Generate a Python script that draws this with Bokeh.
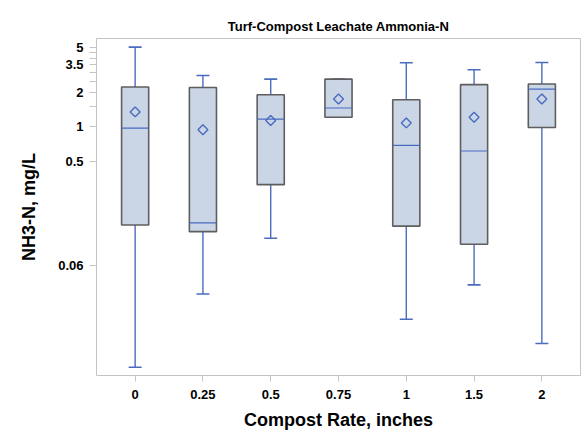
from bokeh.plotting import figure
from bokeh.models import FactorRange, Range1d, FixedTicker, Whisker, ColumnDataSource, TeeHead
from bokeh.embed import file_html
from bokeh.resources import INLINE

# ---- data ----
rates = ["0", "0.25", "0.5", "0.75", "1", "1.5", "2"]
upper = [5.0, 2.82, 2.62, 2.62, 3.64, 3.16, 3.66]
q3 = [2.23, 2.21, 1.91, 2.62, 1.725, 2.34, 2.37]
median = [0.974, 0.143, 1.168, 1.46, 0.686, 0.612, 2.14]
mean = [1.35, 0.94, 1.135, 1.75, 1.08, 1.21, 1.75]
q1 = [0.137, 0.120, 0.31, 1.21, 0.134, 0.0929, 0.986]
lower = [0.00774, 0.034, 0.105, 1.21, 0.0204, 0.0409, 0.0125]

y_ticks = [0.06, 0.5, 1, 1.5, 2, 2.5, 3, 3.5, 4, 4.5, 5]
y_labels = ["0.06", "0.5", "1", "", "2", "", "", "3.5", "", "", "5"]

title = "Turf-Compost Leachate Ammonia-N"
x_title = "Compost Rate, inches"
y_title = "NH3-N, mg/L"

FONT = "Liberation Sans"
BLUE = "#4a6cbf"
FILL = "#cad5e5"
EDGE = "#5e5e5e"
GRAY = "#c4c4c4"

src = ColumnDataSource(dict(x=rates, upper=upper, q3=q3, median=median,
                            mean=mean, q1=q1, lower=lower))

p = figure(width=585, height=445, output_backend="svg", toolbar_location=None,
           x_range=FactorRange(factors=rates, range_padding=0.02),
           y_range=Range1d(0.00655, 5.95), y_axis_type="log",
           min_border_left=96, min_border_right=5, min_border_top=38,
           min_border_bottom=70, title=title)

p.title.text_font = FONT
p.title.text_font_size = "13px"
p.title.text_font_style = "bold"
p.title.align = "center"
p.title.text_color = "#000000"

p.xgrid.visible = False
p.ygrid.visible = False
p.outline_line_color = GRAY
p.outline_line_width = 1
p.background_fill_color = "white"
p.border_fill_color = "white"

# boxes
p.vbar(x="x", width=0.4, top="q3", bottom="q1", source=src,
       fill_color=FILL, line_color=EDGE, line_width=1.6)
# medians
p.vbar(x="x", width=0.4, top="median", bottom="median", source=src,
       fill_alpha=0, line_color=BLUE, line_width=1.2)
# means
p.scatter(x="x", y="mean", source=src, marker="square", angle=0.785398,
          size=7, fill_alpha=0, line_color=BLUE, line_width=1.4)

# whiskers
p.add_layout(Whisker(source=src, base="x", upper="upper", lower="q3",
                     dimension="height", line_color=BLUE, line_width=1.4,
                     upper_head=TeeHead(size=13, line_color=BLUE, line_width=1.6),
                     lower_head=None))
p.add_layout(Whisker(source=src, base="x", upper="q1", lower="lower",
                     dimension="height", line_color=BLUE, line_width=1.4,
                     lower_head=TeeHead(size=13, line_color=BLUE, line_width=1.6),
                     upper_head=None))

# axes
p.yaxis.ticker = FixedTicker(ticks=y_ticks, minor_ticks=[])
p.yaxis.major_label_overrides = {t: l for t, l in zip(y_ticks, y_labels)}

for ax in (p.xaxis[0], p.yaxis[0]):
    ax.axis_line_color = None
    ax.major_tick_line_color = GRAY
    ax.minor_tick_line_color = None
    ax.major_tick_in = 0
    ax.major_label_text_font = FONT
    ax.major_label_text_font_style = "bold"
    ax.major_label_text_font_size = "13px"
    ax.major_label_text_color = "#000000"
    ax.axis_label_text_font = FONT
    ax.axis_label_text_font_style = "bold"
    ax.axis_label_text_font_size = "18px"
    ax.axis_label_text_color = "#000000"

p.xaxis.axis_label = x_title
p.yaxis.axis_label = y_title
p.xaxis.major_tick_out = 6
p.yaxis.major_tick_out = 7
p.xaxis.major_label_standoff = 8
p.yaxis.major_label_standoff = 6
p.xaxis.axis_label_standoff = 8
p.yaxis.axis_label_standoff = 16

open("out.html", "w").write(file_html(p, INLINE))
